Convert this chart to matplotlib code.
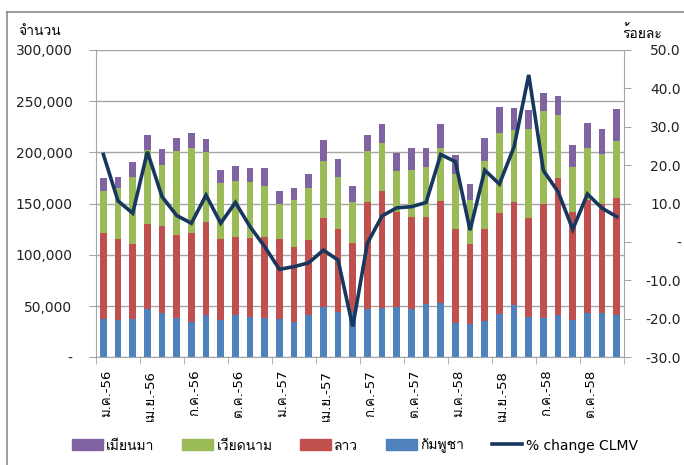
import matplotlib
matplotlib.use("Agg")
import matplotlib.pyplot as plt
import matplotlib.transforms as mtransforms
from matplotlib import font_manager as fm
from matplotlib.ft2font import FT2Font
from matplotlib.lines import Line2D
from matplotlib.patches import Patch
from matplotlib.ticker import FuncFormatter
import numpy as np


def find_thai_font():
    seen = set()
    for f in fm.fontManager.ttflist:
        if f.name in seen:
            continue
        seen.add(f.name)
        try:
            cmap = FT2Font(f.fname).get_charmap()
        except Exception:
            continue
        if 0x0E08 in cmap and 0x0E27 in cmap and 0x0E33 in cmap:
            return f.name
    return None


thai = find_thai_font()
families = ["DejaVu Sans"] + ([thai] if thai else [])
plt.rcParams["font.family"] = families

# ข้อมูลรายเดือน ม.ค.-56 ถึง ธ.ค.-58 (สะสมจากล่างขึ้นบน)
cambodia = [37000, 36000, 37000, 46800, 43200, 38600, 34700, 40900, 36000, 40900, 39600, 38600,
            37000, 34700, 40900, 49000, 44500, 44400, 46800, 48400, 49000, 46800, 52000, 52900,
            33400, 32800, 35100, 42200, 50700, 39600, 38600, 40900, 36400, 43200, 43200, 40900]
laos_cum = [121800, 115600, 110700, 130200, 127900, 119200, 121800, 132500, 115600, 117900, 116900, 117900,
            115600, 107200, 114300, 136000, 125000, 112000, 151300, 162700, 142200, 137300, 137300, 152900,
            125300, 110700, 125300, 140900, 151600, 136000, 149400, 174700, 142200, 153900, 150000, 155200]
vietnam_cum = [162300, 165000, 176000, 202000, 188000, 201000, 204600, 200000, 169800, 172100, 171100, 167500,
               150000, 153900, 165000, 191300, 175700, 151300, 201000, 209400, 181800, 183100, 185400, 204600,
               179200, 153900, 191600, 219200, 221400, 222700, 240000, 236100, 185400, 203900, 198700, 210700]
total = [174700, 176000, 190300, 216900, 203600, 214300, 219200, 213000, 183100, 186700, 184400, 184400,
         162300, 165000, 179200, 212000, 193800, 167200, 216900, 227600, 199700, 204600, 204600, 227600,
         197700, 169500, 214300, 244500, 243200, 240900, 258100, 255200, 207200, 228900, 222700, 242200]
pct_change = [22.8, 10.7, 7.5, 23.5, 11.8, 6.9, 4.9, 12.2, 4.9, 10.3, 4.0, -1.2,
              -7.1, -6.4, -5.4, -2.1, -4.7, -22.0, -0.3, 6.8, 8.9, 9.2, 10.3, 22.8,
              20.9, 3.1, 18.7, 15.1, 24.8, 43.5, 18.6, 13.1, 3.3, 12.5, 8.8, 6.6]
tick_labels = ["ม.ค.-56", "เม.ย.-56", "ก.ค.-56", "ต.ค.-56", "ม.ค.-57", "เม.ย.-57",
               "ก.ค.-57", "ต.ค.-57", "ม.ค.-58", "เม.ย.-58", "ก.ค.-58", "ต.ค.-58"]

cambodia = np.array(cambodia)
laos = np.array(laos_cum) - cambodia
vietnam = np.array(vietnam_cum) - np.array(laos_cum)
myanmar = np.array(total) - np.array(vietnam_cum)

C_BLUE, C_RED, C_GREEN, C_PURPLE = "#4F81BD", "#C0504D", "#9BBB59", "#8064A2"
C_LINE = "#17375E"
GRID = "#A6A6A6"

fig = plt.figure(figsize=(6.84, 4.65), dpi=100)
ax = fig.add_axes([0.1404, 0.2316, 0.772, 0.661])
x = np.arange(len(cambodia))
w = 0.46

ax.bar(x, cambodia, w, color=C_BLUE, zorder=2)
ax.bar(x, laos, w, bottom=cambodia, color=C_RED, zorder=2)
ax.bar(x, vietnam, w, bottom=cambodia + laos, color=C_GREEN, zorder=2)
ax.bar(x, myanmar, w, bottom=cambodia + laos + vietnam, color=C_PURPLE, zorder=2)

ax.set_xlim(-0.5, len(x) - 0.5)
ax.set_ylim(0, 300000)
ax.set_yticks(np.arange(0, 300001, 50000))
ax.yaxis.set_major_formatter(FuncFormatter(lambda v, p: "-" if v == 0 else f"{int(v):,}"))
ax.grid(axis="y", color=GRID, linewidth=1, zorder=0)
ax.set_axisbelow(True)

ax.set_xticks(x[::3])
ax.set_xticklabels(tick_labels, rotation=90, fontsize=9.5)
ax.set_xticks(np.arange(-0.5, len(x), 3), minor=True)
ax.tick_params(axis="x", which="major", length=0, pad=9)
ax.tick_params(axis="x", which="minor", length=5, color=GRID)
ax.tick_params(axis="y", length=5, color=GRID, pad=12, labelsize=10, labelcolor="#222222")
shift = mtransforms.ScaledTranslation(3 / 100, 0, fig.dpi_scale_trans)
for lab in ax.get_xticklabels():
    lab.set_transform(lab.get_transform() + shift)

for s in ["top", "right"]:
    ax.spines[s].set_visible(False)
for s in ["left", "bottom"]:
    ax.spines[s].set_color(GRID)

ax2 = ax.twinx()
ax2.plot(x, pct_change, color=C_LINE, linewidth=2.6, solid_joinstyle="miter", zorder=5)
ax2.set_ylim(-30, 50)
ax2.set_yticks(np.arange(-30, 51, 10))
ax2.yaxis.set_major_formatter(FuncFormatter(lambda v, p: "-" if v == 0 else f"{v:.1f}"))
ax2.tick_params(axis="y", length=5, color=GRID, pad=36, labelsize=10, labelcolor="#222222")
for lab in ax2.get_yticklabels():
    lab.set_horizontalalignment("right")
for s in ["top", "left", "bottom"]:
    ax2.spines[s].set_visible(False)
ax2.spines["right"].set_color(GRID)

fig.text(18 / 684, 1 - 31 / 465, "จำนวน", fontsize=10, va="center", ha="left")
fig.text(622 / 684, 1 - 33 / 465, "ร้อยละ", fontsize=10, va="center", ha="left")

handles = [Patch(color=C_PURPLE), Patch(color=C_GREEN), Patch(color=C_RED), Patch(color=C_BLUE),
           Line2D([0], [0], color=C_LINE, linewidth=2.6)]
labels = ["เมียนมา", "เวียดนาม", "ลาว", "กัมพูชา", "% change CLMV"]
fig.legend(handles, labels, loc="center", bbox_to_anchor=(355 / 684, 1 - 446 / 465), ncol=5,
           frameon=False, fontsize=10, handlelength=2.2, handleheight=0.85,
           handletextpad=0.25, columnspacing=2.0)

# กรอบแผนภูมิด้านบนและด้านซ้าย
fig.add_artist(Line2D([7 / 684, 1], [1 - 12 / 465] * 2, color="#8C8C8C", linewidth=1.2))
fig.add_artist(Line2D([7 / 684] * 2, [0, 1 - 12 / 465], color="#8C8C8C", linewidth=1.2))

fig.savefig("out.png", dpi=100)
plt.close(fig)
